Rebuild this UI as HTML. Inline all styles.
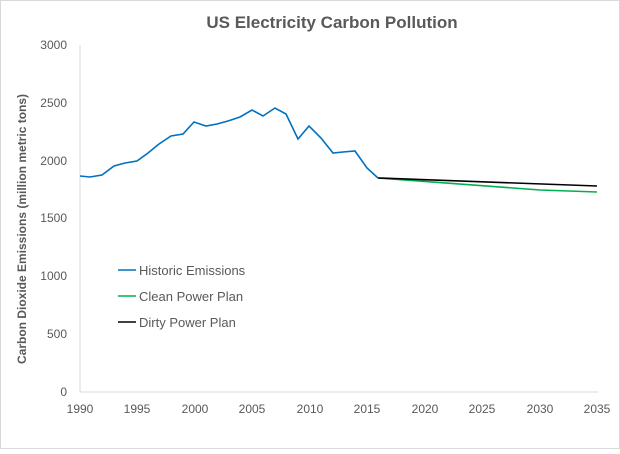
<!DOCTYPE html>
<html><head><meta charset="utf-8"><style>
body{margin:0;background:#fff;}
svg text{font-family:"Liberation Sans",sans-serif;}
</style></head><body>
<svg width="620" height="449" viewBox="0 0 620 449" xmlns="http://www.w3.org/2000/svg">
<rect x="0.5" y="0.5" width="619" height="448" fill="#fff" stroke="#d9d9d9"/>
<text x="332" y="28" text-anchor="middle" font-size="17" font-weight="bold" fill="#595959">US Electricity Carbon Pollution</text>
<line x1="80" y1="45" x2="80" y2="392" stroke="#d9d9d9"/>
<line x1="80" y1="392" x2="598" y2="392" stroke="#d9d9d9"/>
<g font-size="12" fill="#595959" text-anchor="end">
<text x="67" y="396">0</text><text x="67" y="338">500</text><text x="67" y="280">1000</text>
<text x="67" y="222">1500</text><text x="67" y="165">2000</text><text x="67" y="107">2500</text><text x="67" y="49">3000</text>
</g>
<g font-size="12" fill="#595959" text-anchor="middle">
<text x="80" y="413">1990</text><text x="137" y="413">1995</text><text x="195" y="413">2000</text>
<text x="252" y="413">2005</text><text x="310" y="413">2010</text><text x="367" y="413">2015</text>
<text x="425" y="413">2020</text><text x="482" y="413">2025</text><text x="540" y="413">2030</text><text x="597" y="413">2035</text>
</g>
<text transform="translate(26,229) rotate(-90)" text-anchor="middle" font-size="12" font-weight="bold" fill="#595959">Carbon Dioxide Emissions (million metric tons)</text>
<polyline fill="none" stroke="#00b050" stroke-width="1.6" points="378,178 540,190 597,192"/>
<polyline fill="none" stroke="#000" stroke-width="1.6" points="378,178 597,186"/>
<polyline fill="none" stroke="#0070c0" stroke-width="1.6" points="80,176 90,177 102,175 114,166 125,163 137,161 148,153 159,144 171,136 183,134 194,122 206,126 217,124 228,121 240,117 252,110 263,116 275,108 286,114 298,139 309,126 321,138 333,153 343,152 355,151 367,168 378,178"/>
<g font-size="13" fill="#595959">
<line x1="118" y1="270" x2="136" y2="270" stroke="#0070c0" stroke-width="1.6"/><text x="139" y="275">Historic Emissions</text>
<line x1="118" y1="296" x2="136" y2="296" stroke="#00b050" stroke-width="1.6"/><text x="139" y="301">Clean Power Plan</text>
<line x1="118" y1="322" x2="136" y2="322" stroke="#000" stroke-width="1.6"/><text x="139" y="327">Dirty Power Plan</text>
</g>
</svg>
</body></html>
